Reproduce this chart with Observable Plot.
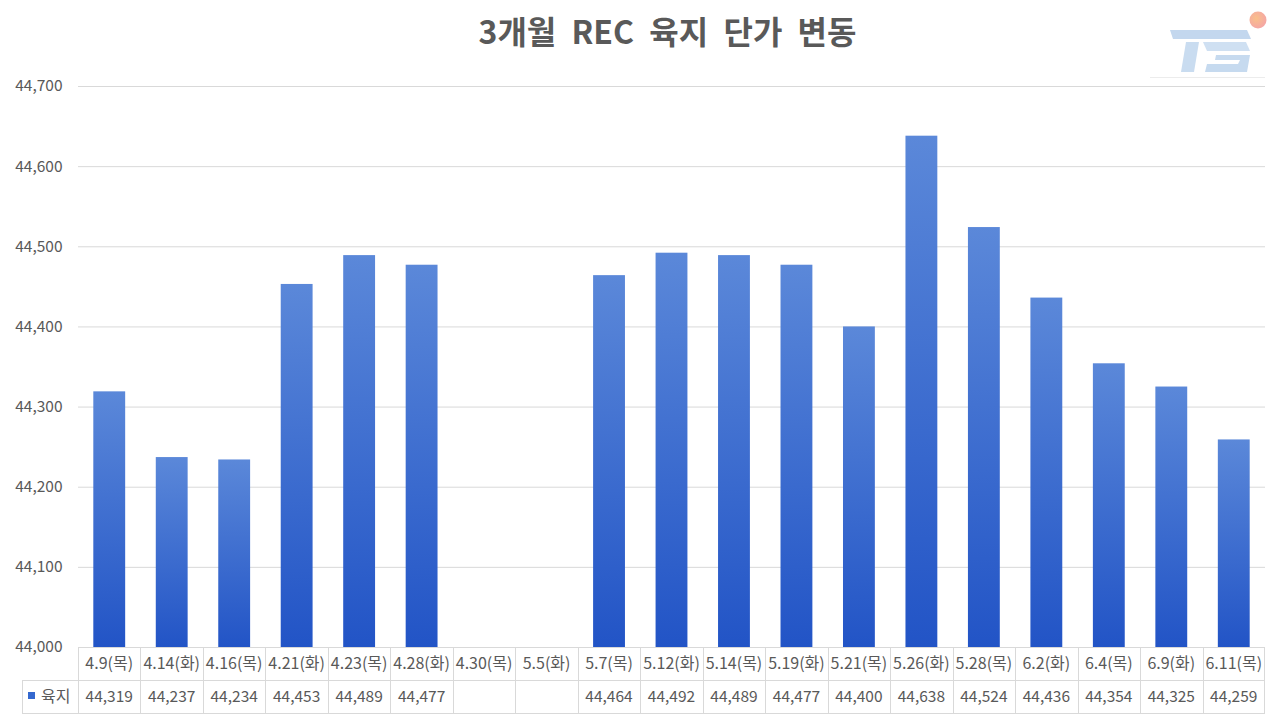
<!DOCTYPE html>
<html><head><meta charset="utf-8">
<script src="https://cdn.jsdelivr.net/npm/d3@7"></script>
<script src="https://cdn.jsdelivr.net/npm/@observablehq/plot@0.6"></script>
<style>
body{margin:0;background:#fff;}
#wrap{position:relative;width:1280px;height:720px;overflow:hidden;font-family:"Noto Sans CJK KR","Noto Sans",sans-serif;}
#title{position:absolute;left:0;top:8px;width:1335px;text-align:center;font-size:32px;line-height:44px;font-weight:bold;color:#595959;word-spacing:8px;}
#logo{position:absolute;left:1150px;top:0;}
#chart{position:absolute;left:0;top:0;}
</style></head>
<body>
<div id="wrap">
<div id="chart"></div>
<div id="title">3개월 REC 육지 단가 변동</div>
<svg id="logo" width="130" height="90" viewBox="1150 0 130 90">
  <defs><radialGradient id="dot" cx="0.4" cy="0.4" r="0.7"><stop offset="0" stop-color="#f9c08a"/><stop offset="1" stop-color="#f4a3a8"/></radialGradient></defs>
  <circle cx="1258" cy="20" r="8.5" fill="url(#dot)"/>
  <polygon points="1170,30 1247,30 1251,39 1173,39" fill="#c3d7ee"/>
  <polygon points="1186,42 1199,42 1194,72 1181,72" fill="#c9dcf0"/>
  <polygon points="1203,42 1246,42 1250,51 1207,51" fill="#cfe0f2"/>
  <polygon points="1216,55 1250,55 1247,72 1205,72 1207,64 1238,64 1240,60 1215,60" fill="#c6daef"/>
  <line x1="1150" y1="77.5" x2="1265" y2="77.5" stroke="#ececec"/>
</svg>
</div>
<script>
const categories = ["4.9(목)","4.14(화)","4.16(목)","4.21(화)","4.23(목)","4.28(화)","4.30(목)","5.5(화)","5.7(목)","5.12(화)","5.14(목)","5.19(화)","5.21(목)","5.26(화)","5.28(목)","6.2(화)","6.4(목)","6.9(화)","6.11(목)"];
const values = [44319,44237,44234,44453,44489,44477,null,null,44464,44492,44489,44477,44400,44638,44524,44436,44354,44325,44259];
const yTicks = [44000,44100,44200,44300,44400,44500,44600,44700];
const seriesName = "육지";

const data = categories.map((c, i) => ({cat: c, value: values[i]}));
const fmt = d3.format(",");
const textColor = "#595959";
const lineColor = "#d9d9d9";

function gradientDefs() {
  const defs = d3.create("svg:defs");
  const g = defs.append("linearGradient").attr("id", "barGrad")
    .attr("x1", 0).attr("y1", 0).attr("x2", 0).attr("y2", 1);
  g.append("stop").attr("offset", "0%").attr("stop-color", "#5b88d9");
  g.append("stop").attr("offset", "100%").attr("stop-color", "#2254c6");
  return defs.node();
}

function tableMark(index, scales, vals, dims) {
  const x = scales.x;
  const bw = typeof x.bandwidth === "function" ? x.bandwidth() : (x.bandwidth || 0);
  const step = x(categories[1]) - x(categories[0]);
  const top = dims.height - dims.marginBottom;
  const rowH = 33;
  const right = dims.width - dims.marginRight;
  const legendLeft = 22;
  const g = d3.create("svg:g").attr("font-size", "15.5px").attr("fill", textColor).attr("text-anchor", "start");
  const line = (x1, y1, x2, y2) => g.append("line")
    .attr("x1", x1).attr("y1", y1).attr("x2", x2).attr("y2", y2)
    .attr("stroke", lineColor).attr("stroke-width", 1);
  line(legendLeft, top + rowH + 0.5, right, top + rowH + 0.5);
  line(legendLeft, top + 2 * rowH + 0.5, right, top + 2 * rowH + 0.5);
  line(legendLeft + 0.5, top + rowH, legendLeft + 0.5, top + 2 * rowH);
  categories.forEach((c) => {
    const xl = Math.round(x(c) + bw / 2 - step / 2) + 0.5;
    line(xl, top, xl, top + 2 * rowH);
  });
  line(Math.round(right) - 0.5, top, Math.round(right) - 0.5, top + 2 * rowH);
  categories.forEach((c, i) => {
    const cx = x(c) + bw / 2;
    g.append("text").attr("x", cx).attr("y", top + rowH / 2).attr("dy", "0.36em")
      .attr("text-anchor", "middle").attr("font-size", "16px").text(c);
    if (values[i] != null) {
      g.append("text").attr("x", cx).attr("y", top + rowH * 1.5).attr("dy", "0.36em")
        .attr("text-anchor", "middle").text(fmt(values[i]));
    }
  });
  g.append("rect").attr("x", 28).attr("y", top + rowH * 1.5 - 4.5).attr("width", 7).attr("height", 7)
    .attr("fill", "#3468cf");
  g.append("text").attr("x", 41).attr("y", top + rowH * 1.5).attr("dy", "0.36em")
    .attr("text-anchor", "start").attr("font-size", "16px").text(seriesName);
  return g.node();
}

const chart = Plot.plot({
  width: 1280,
  height: 720,
  marginTop: 86,
  marginBottom: 73,
  marginLeft: 78,
  marginRight: 15,
  style: {fontFamily: '"Noto Sans CJK KR","Noto Sans",sans-serif', fontSize: "15.5px", color: textColor, background: "transparent"},
  x: {domain: categories, paddingInner: 0.49, paddingOuter: 0.245, round: false, axis: null},
  y: {domain: [44000, 44700], ticks: yTicks, tickFormat: fmt, tickSize: 0, tickPadding: 16, label: null},
  marks: [
    gradientDefs,
    Plot.ruleY(yTicks, {stroke: lineColor, strokeWidth: 1}),
    Plot.barY(data.filter(d => d.value != null), {x: "cat", y1: 44000, y2: "value", fill: "url(#barGrad)"}),
    tableMark
  ]
});
document.getElementById("chart").appendChild(chart);
</script>
</body></html>
